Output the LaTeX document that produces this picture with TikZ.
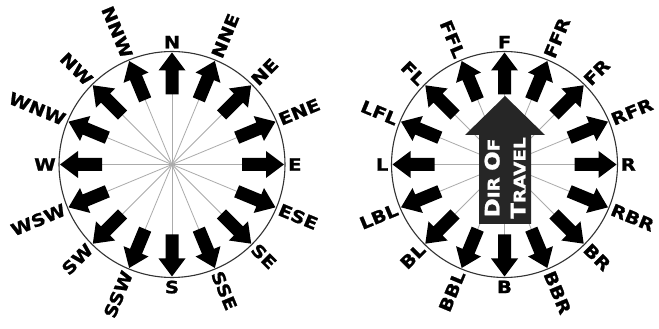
\documentclass[tikz,border=0pt]{standalone}
\usepackage{fontspec}
\newfontfamily\lblfont{DejaVu Sans Bold}[FakeStretch=1.15,FakeBold=1.2]
\newcommand\dtBig[1]{{\fontsize{20}{26}\selectfont #1}}
\newcommand\dtSmall[1]{{\fontsize{16}{26}\selectfont #1}}
\begin{document}
\begin{tikzpicture}[x=1pt,y=1pt,
  lbl/.style={font=\lblfont\fontsize{17}{17}\selectfont, inner sep=0pt},
  spoke/.style={draw=black!33, line width=0.8pt},
  ring/.style={draw=black!80, line width=1.1pt},
  arrowshape/.style={fill=black},
  travel/.style={fill=black!85}]
\useasboundingbox (0,0) rectangle (659,329);
\fill[white] (0,0) rectangle (659,329);
% left rose
\begin{scope}[shift={(172,164.5)}]
  \foreach \a in {0,22.5,...,337.5}{\draw[spoke] (0,0) -- (\a:72);}
  \foreach \a in {0,22.5,...,337.5}{\fill[arrowshape,rotate=\a] (70,-6.5) -- (94,-6.5) -- (94,-13.5) -- (112,0) -- (94,13.5) -- (94,6.5) -- (70,6.5) -- cycle;}
  \draw[ring] (0,0) circle (113);
  \foreach \a/\t/\r/\an in {90/N/0/south, 67.5/NNE/67.5/west, 45/NE/45/west, 22.5/ENE/22.5/west, 0/E/0/west, -22.5/ESE/-22.5/west, -45/SE/-45/west, -67.5/SSE/-67.5/west, -90/S/0/north, -112.5/SSW/67.5/east, -135/SW/45/east, -157.5/WSW/22.5/east, 180/W/0/east, 157.5/WNW/-22.5/east, 135/NW/-45/east, 112.5/NNW/-67.5/east}
    {\node[lbl,rotate=\r,anchor=\an] (l\t) at (\a:116) {\t};}
\end{scope}
% right rose
\begin{scope}[shift={(504.5,164.5)}]
  \foreach \a in {0,22.5,...,337.5}{\draw[spoke] (0,0) -- (\a:72);}
  \foreach \a in {0,22.5,...,337.5}{\fill[arrowshape,rotate=\a] (70,-6.5) -- (94,-6.5) -- (94,-13.5) -- (112,0) -- (94,13.5) -- (94,6.5) -- (70,6.5) -- cycle;}
  \draw[ring] (0,0) circle (113);
  \foreach \a/\t/\r/\an in {90/F/0/south, 67.5/FFR/67.5/west, 45/FR/45/west, 22.5/RFR/22.5/west, 0/R/0/west, -22.5/RBR/-22.5/west, -45/BR/-45/west, -67.5/BBR/-67.5/west, -90/B/0/north, -112.5/BBL/67.5/east, -135/BL/45/east, -157.5/LBL/22.5/east, 180/L/0/east, 157.5/LFL/-22.5/east, 135/FL/-45/east, 112.5/FFL/-67.5/east}
    {\node[lbl,rotate=\r,anchor=\an] (r\t) at (\a:116) {\t};}
\end{scope}
% direction of travel arrow
\fill[travel] (479,105) -- (531,105) -- (531,194) -- (545,194) -- (505,233) -- (465,194) -- (479,194) -- cycle;
\node[rotate=90, text=white, align=center, inner sep=0pt, font=\lblfont\fontsize{16}{26}\selectfont] (dir) at (505,151)
  {\dtBig{D}\dtSmall{IR} \dtBig{O}\dtSmall{F}\\\dtBig{T}\dtSmall{RAVEL}};
\end{tikzpicture}
\end{document}
